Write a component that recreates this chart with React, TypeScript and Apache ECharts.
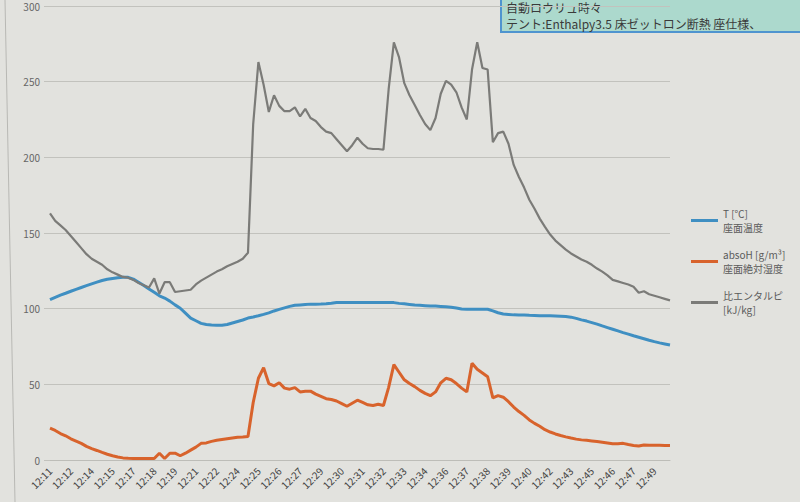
import React, { useEffect, useRef } from "react";
import * as echarts from "echarts";

const timeLabels = [
  "12:11", "12:12", "12:14", "12:15", "12:17", "12:18", "12:19", "12:21", "12:22", "12:24",
  "12:25", "12:26", "12:27", "12:29", "12:30", "12:31", "12:32", "12:33", "12:34", "12:36",
  "12:37", "12:38", "12:39", "12:40", "12:42", "12:43", "12:45", "12:46", "12:47", "12:49",
];

const seatTemp = [
  106, 107.5, 109, 110.2, 111.5, 112.8, 114, 115.2, 116.4, 117.5,
  118.6, 119.4, 120, 120.4, 120.7, 120.7, 119.5, 117.5, 115.3, 113,
  110.8, 108.5, 107, 105, 102.5, 100.3, 97, 93.7, 92, 90.3,
  89.6, 89.2, 89, 89, 89.5, 90.5, 91.5, 92.5, 93.8, 94.5,
  95.3, 96.2, 97.2, 98.5, 99.5, 100.5, 101.5, 102.2, 102.5, 102.8,
  103, 103, 103.1, 103.3, 103.6, 104, 104, 104, 104, 104,
  104, 104, 104, 104, 104, 104, 104, 103.5, 103.2, 102.8,
  102.4, 102.2, 102, 101.8, 101.7, 101.5, 101.3, 101, 100.5, 99.8,
  99.6, 99.6, 99.6, 99.6, 99.6, 98.5, 97.3, 96.5, 96.2, 95.9,
  95.8, 95.8, 95.6, 95.5, 95.4, 95.4, 95.3, 95.2, 95, 94.8,
  94.4, 93.6, 92.6, 91.8, 90.8, 89.8, 88.6, 87.5, 86.4, 85.3,
  84.2, 83.2, 82.1, 81.1, 80.1, 79.1, 78.2, 77.4, 76.7, 76,
];

const absHumidity = [
  21, 19.5, 17.5, 16, 14, 12.5, 11, 9, 7.5, 6.3,
  5, 3.8, 2.8, 2, 1.4, 1.1, 1, 1, 1, 1,
  1, 4.5, 1, 4.5, 4.5, 2.8, 4.5, 6.5, 8.5, 11,
  11.3, 12.3, 13, 13.5, 14, 14.5, 15, 15.2, 15.5, 38,
  54, 61, 50.5, 49, 51, 47.5, 46.8, 47.8, 45, 45.5,
  45.5, 43.5, 42, 40.5, 40, 39, 37.3, 35.5, 37.5, 39.5,
  38, 36.5, 36, 36.8, 36, 48, 63, 58, 53, 50.5,
  48.5, 46, 44, 42.5, 45, 51, 54, 53, 50.5, 47.5,
  45, 64, 60, 57.5, 55, 41, 42.5, 41.5, 38.5, 35,
  32, 29.5, 26.5, 24.2, 22.3, 20, 18.5, 17.2, 16.2, 15.3,
  14.5, 13.8, 13.3, 13, 12.6, 12.2, 11.7, 11.2, 10.7, 10.7,
  11, 10.2, 9.6, 9.2, 9.9, 9.8, 9.8, 9.7, 9.6, 9.5,
];

const enthalpy = [
  163, 158, 155, 152, 148, 144, 140, 136, 133, 131,
  129, 126, 124, 122.5, 121, 120.5, 119, 117, 115.5, 114,
  120, 110, 117.5, 117.5, 111, 111.5, 112, 112.5, 116, 118.5,
  120.5, 122.5, 124.5, 126, 128, 129.5, 131, 133, 137, 222,
  263, 248, 230, 241, 234, 230.5, 230.5, 233, 227, 232,
  226, 224, 220, 217, 216, 212, 208, 204, 208, 213,
  209, 206, 205.5, 205.5, 205, 245, 276, 266, 249, 241,
  234.6, 228, 222, 218, 226, 242, 250.5, 248, 243, 233,
  225, 258, 276, 259, 258, 210, 216, 217, 209, 195,
  187, 180, 172, 166, 159.5, 154, 149, 145, 142, 139,
  136.5, 134.5, 132.5, 131, 129, 126.5, 124.5, 122, 119, 118,
  117, 116, 114.5, 110.5, 111.5, 109.5, 108.5, 107.5, 106.5, 105.5,
];

const seriesNames = ["T [℃]\n座面温度", "absoH [g/m³]\n座面絶対湿度", "比エンタルピ\n[kJ/kg]"];
const seriesColors = ["#3f8fc2", "#d8632c", "#7b7b78"];
const seriesWidths = [3, 3, 2.2];
const yTicks = [0, 50, 100, 150, 200, 250, 300];

const FONT = "'Noto Sans CJK JP', 'Noto Sans', sans-serif";

export default function App() {
  const ref = useRef<HTMLDivElement>(null);

  useEffect(() => {
    if (!ref.current) return;
    const chart = echarts.init(ref.current, undefined, { renderer: "svg" });
    const categories = seatTemp.map((_, i) => String(i));
    const dataSets = [seatTemp, absHumidity, enthalpy];

    chart.setOption({
      animation: false,
      backgroundColor: "#e2e2de",
      textStyle: { fontFamily: FONT },
      grid: { left: 50, right: 130, top: 6, bottom: 42 },
      legend: {
        orient: "vertical",
        left: 686,
        top: 195,
        itemGap: 0,
        icon: "rect",
        itemWidth: 27,
        itemHeight: 3,
        itemStyle: { borderWidth: 0 },
        textStyle: {
          color: "#5a5a5a",
          fontSize: 10,
          lineHeight: 14,
          padding: [13, 0, 0, 0],
          fontFamily: FONT,
        },
        data: seriesNames,
      },
      xAxis: {
        type: "category",
        data: categories,
        boundaryGap: false,
        axisLine: { show: true, lineStyle: { color: "#bdbdb8", width: 1 } },
        axisTick: { show: false },
        axisLabel: {
          interval: 3,
          rotate: 45,
          fontSize: 10,
          color: "#444",
          margin: 9,
          formatter: (_v: string, idx: number) => timeLabels[Math.floor(idx / 4)] ?? "",
        },
        splitLine: { show: false },
      },
      yAxis: {
        type: "value",
        min: yTicks[0],
        max: yTicks[yTicks.length - 1],
        interval: 50,
        axisLine: { show: false },
        axisTick: { show: true, length: 6, lineStyle: { color: "#c2c2bd" } },
        axisLabel: { fontSize: 10, color: "#666", margin: 10 },
        splitLine: { lineStyle: { color: "#c2c2bd", width: 1 } },
      },
      graphic: [
        {
          type: "line",
          shape: { x1: 5, y1: 0, x2: 15, y2: 502 },
          style: { stroke: "#b8b8b4", lineWidth: 1 },
          silent: true,
        },
        {
          type: "rect",
          shape: { x: 501, y: -6, width: 310, height: 38 },
          style: { fill: "#acd9cd", stroke: "#4f94cf", lineWidth: 2 },
          silent: true,
        },
        {
          type: "text",
          x: 506,
          y: 7,
          style: {
            text: "自動ロウリュ時々",
            fontSize: 12,
            fill: "#3a3a3a",
            verticalAlign: "middle",
            fontFamily: FONT,
          },
          silent: true,
        },
        {
          type: "text",
          x: 506,
          y: 23,
          style: {
            text: "テント:Enthalpy3.5 床ゼットロン断熱 座仕様、",
            fontSize: 12,
            fill: "#3a3a3a",
            verticalAlign: "middle",
            fontFamily: FONT,
          },
          silent: true,
        },
      ],
      series: dataSets.map((d, k) => ({
        name: seriesNames[k],
        type: "line",
        data: d,
        symbol: "none",
        smooth: false,
        lineStyle: { color: seriesColors[k], width: seriesWidths[k] },
        itemStyle: { color: seriesColors[k] },
      })),
    });

    return () => chart.dispose();
  }, []);

  return (
    <div
      ref={ref}
      style={{ position: "fixed", left: 0, top: 0, width: 800, height: 502 }}
    />
  );
}
